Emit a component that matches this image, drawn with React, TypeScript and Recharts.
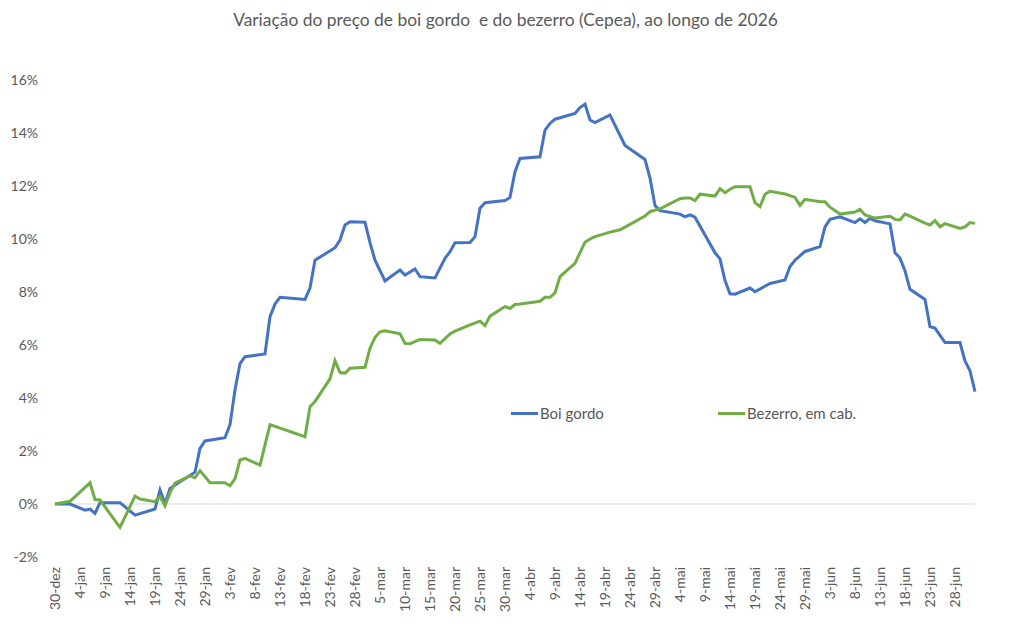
import React from "react";
import { LineChart, Line, XAxis, YAxis, ReferenceLine } from "recharts";

const titulo = "Variação do preço de boi gordo  e do bezerro (Cepea), ao longo de 2026";

// Boi gordo (Cepea): variação acumulada em %, por data de cotação
const datasBoi = [
  "30-dez", "2-jan", "5-jan", "6-jan", "7-jan", "8-jan", "12-jan", "15-jan", "19-jan", "20-jan",
  "21-jan", "22-jan", "27-jan", "28-jan", "29-jan", "2-fev", "3-fev", "4-fev", "5-fev", "6-fev",
  "10-fev", "11-fev", "12-fev", "13-fev", "18-fev", "19-fev", "20-fev", "24-fev", "25-fev", "26-fev",
  "27-fev", "2-mar", "3-mar", "4-mar", "6-mar", "9-mar", "10-mar", "12-mar", "13-mar", "16-mar",
  "18-mar", "19-mar", "20-mar", "23-mar", "24-mar", "25-mar", "26-mar", "30-mar", "31-mar", "1-abr",
  "2-abr", "6-abr", "7-abr", "8-abr", "9-abr", "13-abr", "14-abr", "15-abr", "16-abr", "17-abr",
  "20-abr", "23-abr", "27-abr", "28-abr", "29-abr", "30-abr", "4-mai", "5-mai", "6-mai", "7-mai",
  "11-mai", "12-mai", "13-mai", "14-mai", "15-mai", "18-mai", "19-mai", "22-mai", "25-mai", "26-mai",
  "27-mai", "29-mai", "1-jun", "2-jun", "3-jun", "5-jun", "8-jun", "9-jun", "10-jun", "11-jun",
  "12-jun", "15-jun", "16-jun", "17-jun", "18-jun", "19-jun", "22-jun", "23-jun", "24-jun", "26-jun",
  "29-jun", "30-jun", "1-jul", "2-jul",
];
const boiGordo = [
  0, 0, -0.23, -0.19, -0.35, 0.05, 0.05, -0.42, -0.19, 0.53,
  0.02, 0.59, 1.2, 2.1, 2.38, 2.5, 3.0, 4.3, 5.3, 5.56,
  5.66, 7.07, 7.55, 7.8, 7.72, 8.15, 9.2, 9.67, 9.96, 10.53,
  10.65, 10.63, 9.86, 9.2, 8.42, 8.83, 8.64, 8.87, 8.58, 8.53,
  9.27, 9.52, 9.86, 9.87, 10.09, 11.16, 11.37, 11.45, 11.57, 12.54,
  13.04, 13.1, 14.11, 14.36, 14.52, 14.74, 14.96, 15.09, 14.49, 14.39,
  14.68, 13.53, 13.0, 12.3, 11.26, 11.07, 10.94, 10.84, 10.91, 10.82,
  9.48, 9.25, 8.43, 7.93, 7.92, 8.15, 8.01, 8.32, 8.45, 8.96,
  9.2, 9.53, 9.71, 10.46, 10.74, 10.84, 10.62, 10.76, 10.62, 10.78,
  10.69, 10.57, 9.48, 9.28, 8.8, 8.1, 7.72, 6.69, 6.64, 6.09,
  6.09, 5.4, 5.03, 4.24,
];

// Bezerro (Cepea), em R$/cabeça: variação acumulada em %
const datasBezerro = [
  "30-dez", "2-jan", "6-jan", "7-jan", "8-jan", "12-jan", "15-jan", "16-jan", "19-jan", "20-jan",
  "21-jan", "22-jan", "23-jan", "26-jan", "27-jan", "28-jan", "30-jan", "2-fev", "3-fev", "4-fev",
  "5-fev", "6-fev", "9-fev", "11-fev", "12-fev", "18-fev", "19-fev", "20-fev", "23-fev", "24-fev",
  "25-fev", "26-fev", "27-fev", "2-mar", "3-mar", "4-mar", "5-mar", "6-mar", "9-mar", "10-mar",
  "11-mar", "13-mar", "16-mar", "17-mar", "19-mar", "20-mar", "23-mar", "25-mar", "26-mar", "27-mar",
  "30-mar", "31-mar", "1-abr", "2-abr", "6-abr", "7-abr", "8-abr", "9-abr", "10-abr", "13-abr",
  "14-abr", "15-abr", "16-abr", "17-abr", "20-abr", "22-abr", "23-abr", "24-abr", "27-abr", "28-abr",
  "29-abr", "30-abr", "4-mai", "5-mai", "6-mai", "7-mai", "8-mai", "11-mai", "12-mai", "13-mai",
  "14-mai", "15-mai", "18-mai", "19-mai", "20-mai", "21-mai", "22-mai", "25-mai", "27-mai", "28-mai",
  "29-mai", "1-jun", "2-jun", "3-jun", "5-jun", "8-jun", "9-jun", "10-jun", "12-jun", "15-jun",
  "16-jun", "17-jun", "18-jun", "19-jun", "22-jun", "23-jun", "24-jun", "25-jun", "26-jun", "29-jun",
  "30-jun", "1-jul", "2-jul",
];
const bezerro = [
  0, 0.1, 0.8, 0.17, 0.15, -0.88, 0.3, 0.19, 0.09, 0.28,
  -0.07, 0.43, 0.79, 1.06, 0.99, 1.26, 0.8, 0.8, 0.69, 0.95,
  1.66, 1.72, 1.47, 2.99, 2.93, 2.54, 3.67, 3.87, 4.72, 5.41,
  4.96, 4.94, 5.12, 5.16, 5.88, 6.29, 6.5, 6.54, 6.42, 6.06,
  6.05, 6.21, 6.19, 6.06, 6.42, 6.52, 6.76, 6.9, 6.73, 7.09,
  7.45, 7.38, 7.53, 7.55, 7.65, 7.8, 7.8, 7.97, 8.58, 9.08,
  9.49, 9.88, 10.0, 10.09, 10.26, 10.35, 10.45, 10.55, 10.87, 11.03,
  11.09, 11.14, 11.52, 11.55, 11.55, 11.45, 11.69, 11.62, 11.9, 11.75,
  11.88, 11.97, 11.97, 11.37, 11.22, 11.69, 11.8, 11.7, 11.57, 11.27,
  11.5, 11.41, 11.41, 11.2, 10.94, 11.02, 11.12, 10.91, 10.79, 10.86,
  10.74, 10.72, 10.94, 10.86, 10.6, 10.53, 10.69, 10.46, 10.58, 10.4,
  10.46, 10.62, 10.59,
];

// Rótulos do eixo de datas, a cada 5 dias
const rotulosDatas = [
  "30-dez", "4-jan", "9-jan", "14-jan", "19-jan", "24-jan", "29-jan", "3-fev", "8-fev", "13-fev",
  "18-fev", "23-fev", "28-fev", "5-mar", "10-mar", "15-mar", "20-mar", "25-mar", "30-mar", "4-abr",
  "9-abr", "14-abr", "19-abr", "24-abr", "29-abr", "4-mai", "9-mai", "14-mai", "19-mai", "24-mai",
  "29-mai", "3-jun", "8-jun", "13-jun", "18-jun", "23-jun", "28-jun",
];
const rotulosPct = [-2, 0, 2, 4, 6, 8, 10, 12, 14, 16];

const series = [
  { chave: "boi", nome: "Boi gordo", cor: "#4472C4" },
  { chave: "bez", nome: "Bezerro, em cab.", cor: "#70AD47" },
];

// dias corridos desde 30/12/2025
const inicioMes: Record<string, number> = {
  jan: 0, fev: 31, mar: 59, abr: 90, mai: 120, jun: 151, jul: 181,
};
function diaDe(rotulo: string): number {
  const [d, m] = rotulo.split("-");
  if (m === "dez") return Number(d) - 30;
  return 1 + inicioMes[m] + Number(d);
}

const porDia = new Map<number, { dia: number; boi: number | null; bez: number | null }>();
function linha(dia: number) {
  if (!porDia.has(dia)) porDia.set(dia, { dia, boi: null, bez: null });
  return porDia.get(dia)!;
}
datasBoi.forEach((r, i) => { linha(diaDe(r)).boi = boiGordo[i]; });
datasBezerro.forEach((r, i) => { linha(diaDe(r)).bez = bezerro[i]; });
const dados = Array.from(porDia.values()).sort((a, b) => a.dia - b.dia);

const ticksDias = rotulosDatas.map(diaDe);
const rotuloPorDia = new Map(rotulosDatas.map((r) => [diaDe(r), r]));

const FONTE = "Lato, 'Open Sans', sans-serif";
const CINZA = "#595959";

function TickData(props: any) {
  const { x, y, payload } = props;
  const yy = y + 10;
  return (
    <text
      x={x}
      y={yy}
      transform={`rotate(-90, ${x}, ${yy})`}
      textAnchor="end"
      dy="0.35em"
      fill={CINZA}
      fontSize={14}
      fontFamily={FONTE}
    >
      {rotuloPorDia.get(payload.value)}
    </text>
  );
}

function Legenda() {
  return (
    <div
      style={{
        position: "absolute",
        top: 396,
        left: 503,
        height: 20,
        width: 400,
        fontFamily: FONTE,
        fontSize: 15,
        color: CINZA,
      }}
    >
      {series.map((s, i) => (
        <div
          key={s.chave}
          style={{ position: "absolute", left: i * 207, top: 0, display: "flex", alignItems: "center", whiteSpace: "nowrap" }}
        >
          <span style={{ display: "inline-block", width: 27, height: 3, background: s.cor, marginRight: 2 }} />
          <span>{s.nome}</span>
        </div>
      ))}
    </div>
  );
}

export default function App() {
  return (
    <div style={{ position: "relative", width: 995, height: 614, background: "#fff" }}>
      <div
        style={{
          position: "absolute",
          top: 1,
          left: 0,
          width: 995,
          textAlign: "center",
          fontFamily: FONTE,
          fontSize: 17.4,
          lineHeight: "22px",
          color: CINZA,
          whiteSpace: "pre",
        }}
      >
        {titulo}
      </div>
      <LineChart width={995} height={614} data={dados} margin={{ top: 72, right: 28, bottom: 10, left: 0 }}>
        <XAxis
          dataKey="dia"
          type="number"
          domain={[0, 184]}
          ticks={ticksDias}
          interval={0}
          tick={<TickData />}
          tickLine={false}
          axisLine={false}
          tickSize={0}
          tickMargin={0}
          height={55}
        />
        <YAxis
          type="number"
          domain={[-2, 16]}
          ticks={rotulosPct}
          interval={0}
          width={47}
          tickLine={false}
          axisLine={false}
          tickSize={0}
          tickMargin={17}
          tickFormatter={(v: number) => `${v}%`}
          tick={{ fill: CINZA, fontSize: 14, fontFamily: FONTE }}
        />
        <ReferenceLine y={0} stroke="#d9d9d9" strokeWidth={1} />
        {series.map((s) => (
          <Line
            key={s.chave}
            dataKey={s.chave}
            name={s.nome}
            type="linear"
            stroke={s.cor}
            strokeWidth={3}
            dot={false}
            activeDot={false}
            connectNulls
            isAnimationActive={false}
          />
        ))}
      </LineChart>
      <Legenda />
    </div>
  );
}
